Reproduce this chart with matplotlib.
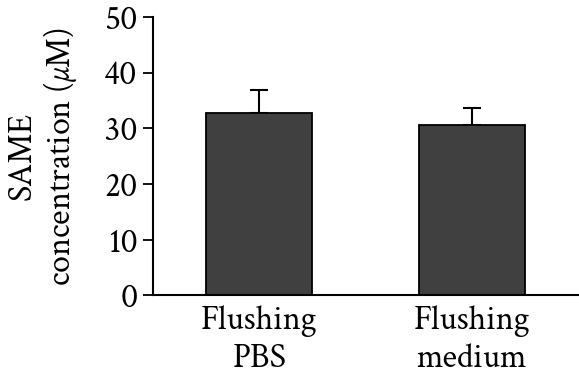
import matplotlib
matplotlib.use("Agg")
import matplotlib.pyplot as plt

plt.rcParams['font.family'] = ['Crimson Text', 'Liberation Serif', 'DejaVu Serif']
plt.rcParams['mathtext.fontset'] = 'custom'
plt.rcParams['mathtext.rm'] = 'Crimson Text'
plt.rcParams['mathtext.it'] = 'Crimson Text:italic'

# data
groups = ['Flushing\nPBS', 'Flushing\nmedium']
means = [32.8, 30.6]
errors = [4.0, 3.1]
yticks = [0, 10, 20, 30, 40, 50]

fig = plt.figure(figsize=(5.79, 3.86), dpi=100)
ax = fig.add_axes([0.2642, 0.2345, 0.734, 0.722])

x = list(range(len(groups)))
ax.bar(x, means, width=0.5, color='#404040', edgecolor='black', linewidth=1.3, zorder=2)
ax.errorbar(x, means, yerr=[[0] * len(errors), errors], fmt='none', ecolor='black',
            elinewidth=1.5, capsize=6.5, capthick=1.5, zorder=1)

ax.set_xlim(-0.5, 1.5)
ax.set_ylim(0, 50)
ax.set_yticks(yticks)
ax.set_xticks(x)
ax.set_xticklabels(groups, fontsize=24.5, linespacing=1.25)
ax.tick_params(axis='x', length=0, pad=7)
ax.tick_params(axis='y', length=7, width=1.3, pad=4, labelsize=24.5)

for side in ['top', 'right']:
    ax.spines[side].set_visible(False)
for side in ['left', 'bottom']:
    ax.spines[side].set_linewidth(1.5)

ax.set_ylabel('SAME\nconcentration ($\\mu$M)', fontsize=24.5, linespacing=1.15, labelpad=18)

fig.savefig('out.png', dpi=100)
